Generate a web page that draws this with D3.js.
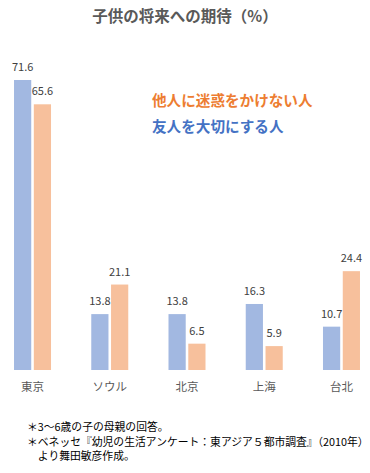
<!DOCTYPE html>
<html><head><meta charset="utf-8">
<script src="https://cdn.jsdelivr.net/npm/d3@7"></script>
<style>body{margin:0;background:#fff}svg{display:block}text{font-family:"Noto Sans CJK JP","Noto Sans",sans-serif}</style>
</head><body><svg id="c" width="370" height="473"></svg>
<script>
const categories = ["東京","ソウル","北京","上海","台北"];
const friends = [71.6,13.8,13.8,16.3,10.7];   // 友人を大切にする人
const others  = [65.6,21.1,6.5,5.9,24.4];     // 他人に迷惑をかけない人
const seriesNames = ["友人を大切にする人","他人に迷惑をかけない人"];
const colors = ["#A2B8E1","#F7C09C"];
const textColors = ["#4472C4","#ED7D31"];
const notes = ["＊3～6歳の子の母親の回答。","＊ベネッセ『幼児の生活アンケート：東アジア５都市調査』（2010年）","　より舞田敏彦作成。"];

const svg = d3.select("#c");
const x0 = d3.scaleBand().domain(categories).range([-6.1,380.1]).paddingInner(0);
const x1 = d3.scaleBand().domain([0,1]).range([x0.bandwidth()/2-18.5, x0.bandwidth()/2+18.5]).paddingInner(0.13);
const y = d3.scaleLinear().domain([0,71.6]).range([370,80]);

svg.append("text").attr("x",185).attr("y",22).attr("text-anchor","middle")
  .attr("font-size",15.5).attr("font-weight","bold").attr("fill","#595959").text("子供の将来への期待（%）");

const data = categories.map((c,i)=>({c, v:[friends[i],others[i]]}));
const g = svg.append("g").selectAll("g").data(data).join("g").attr("transform",d=>`translate(${x0(d.c)},0)`);
g.selectAll("rect").data(d=>d.v.map((v,k)=>({v,k}))).join("rect")
  .attr("x",d=>x1(d.k)).attr("width",x1.bandwidth()).attr("y",d=>y(d.v)).attr("height",d=>y(0)-y(d.v)).attr("fill",d=>colors[d.k]);
g.selectAll("text.v").data(d=>d.v.map((v,k)=>({v,k}))).join("text").attr("class","v")
  .attr("x",d=>x1(d.k)+x1.bandwidth()/2).attr("y",d=>y(d.v)-9).attr("text-anchor","middle")
  .attr("font-size",11).attr("fill","#404040").text(d=>d.v.toFixed(1));

const xAxis = svg.append("g").attr("transform","translate(0,370)").call(d3.axisBottom(x0).tickSize(0).tickPadding(13));
xAxis.select(".domain").remove();
xAxis.selectAll("text").attr("font-size",11.5).attr("fill","#595959").style("font-family",'"Noto Sans CJK JP",sans-serif');

svg.append("text").attr("x",152).attr("y",106).attr("font-size",14.6).attr("font-weight","bold").attr("fill",textColors[1]).text(seriesNames[1]);
svg.append("text").attr("x",152).attr("y",132).attr("font-size",14.6).attr("font-weight","bold").attr("fill",textColors[0]).text(seriesNames[0]);

svg.selectAll("text.n").data(notes).join("text").attr("class","n")
  .attr("x",27).attr("y",(d,i)=>431+i*14.5).attr("font-size",10.8).attr("fill","#000").text(d=>d);
</script></body></html>
